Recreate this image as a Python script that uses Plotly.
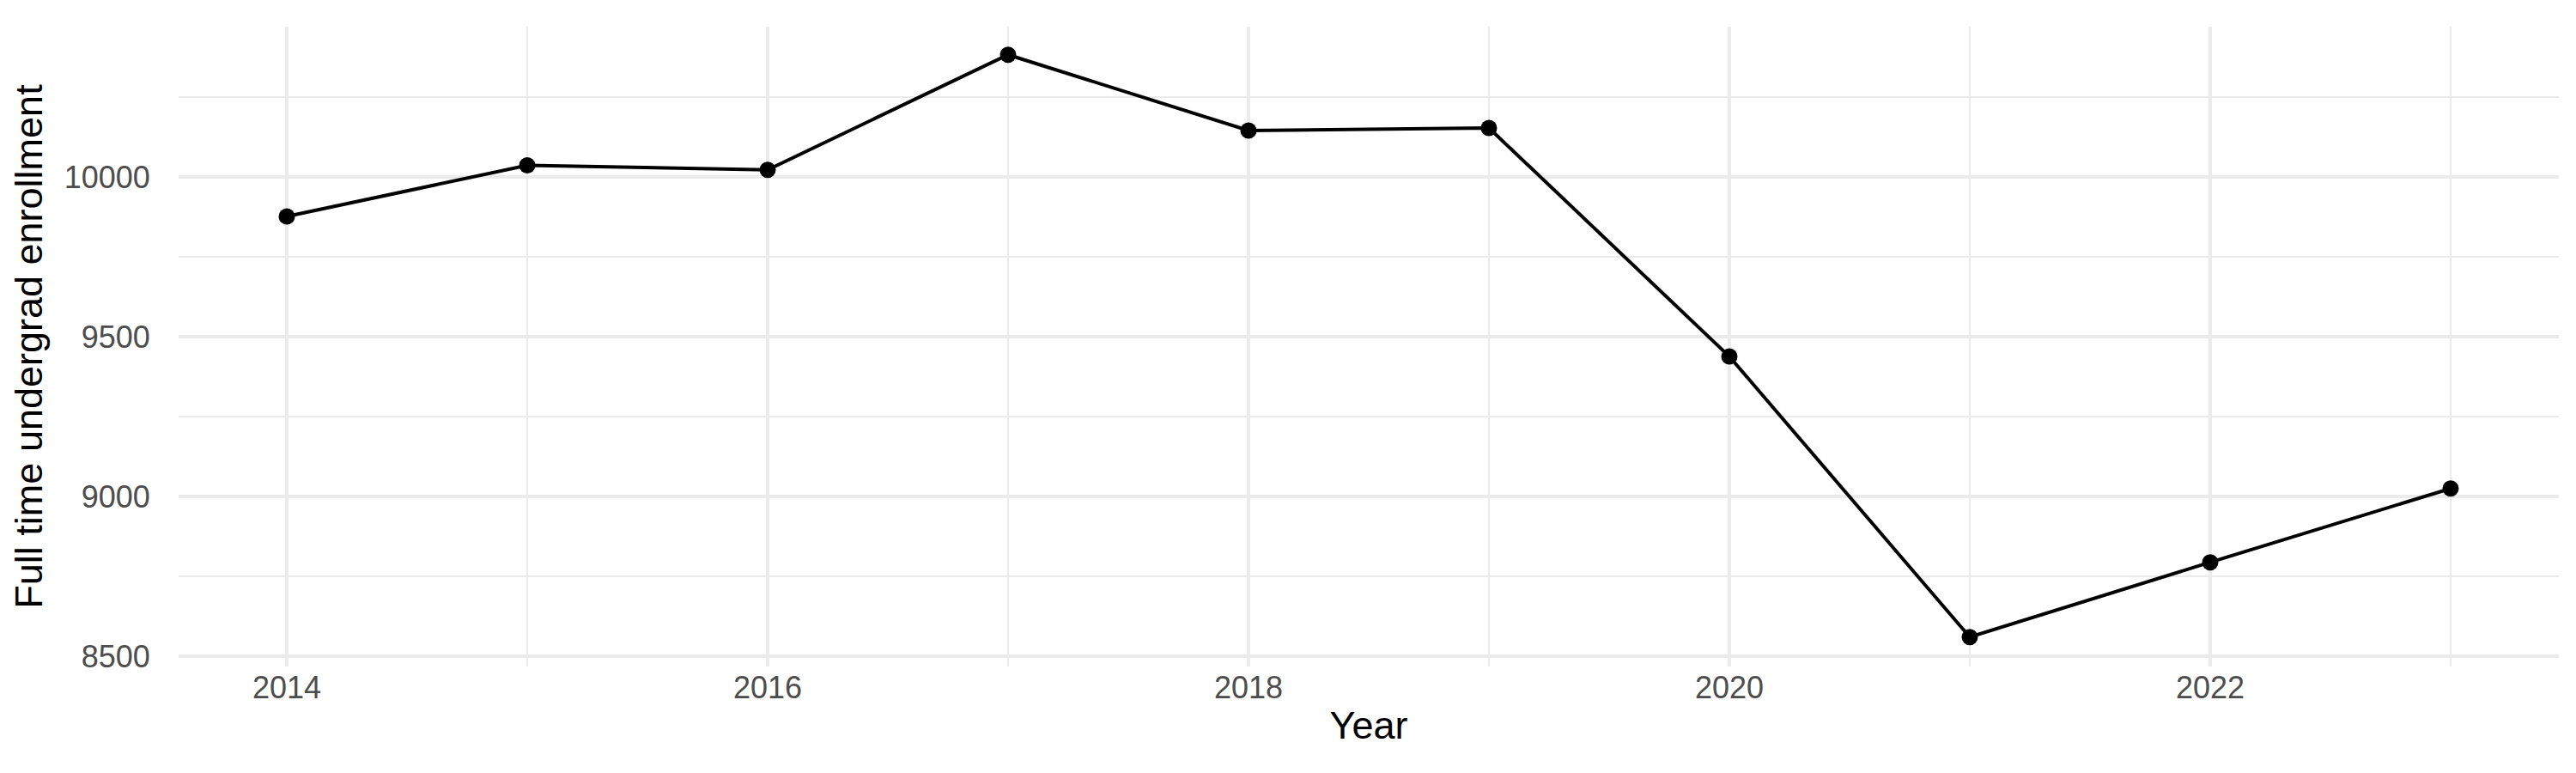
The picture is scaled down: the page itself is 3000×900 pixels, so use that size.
import plotly.graph_objects as go

# enrollment per year
years = [2014, 2015, 2016, 2017, 2018, 2019, 2020, 2021, 2022, 2023]
enrollment = [9876, 10036, 10022, 10382, 10145, 10153, 9438, 8560, 8794, 9025]

x_ticks = [2014, 2016, 2018, 2020, 2022]
y_ticks = [8500, 9000, 9500, 10000]

fig = go.Figure()
fig.add_trace(go.Scatter(
    x=years, y=enrollment, mode='lines+markers',
    line=dict(color='black', width=4),
    marker=dict(color='black', size=19),
    showlegend=False,
))

grid = '#EBEBEB'

fig.update_layout(
    width=3000, height=900,
    margin=dict(l=200, r=28, t=23, b=132),
    paper_bgcolor='white', plot_bgcolor='white',
    font=dict(family='Liberation Sans, Arial, sans-serif', size=36, color='#4D4D4D'),
)
fig.update_xaxes(
    range=[2013.55, 2023.45],
    tickvals=x_ticks, ticktext=[str(v) for v in x_ticks],
    showgrid=True, gridcolor=grid, gridwidth=4,
    minor=dict(dtick=1, tick0=2014, showgrid=True, gridcolor=grid, gridwidth=2),
    zeroline=False, showline=False,
    ticks='', ticklen=0,
    title=dict(text='Year', font=dict(size=45, color='black'), standoff=8),
)
fig.update_yaxes(
    range=[8468, 10470],
    tickvals=y_ticks, ticktext=[str(v) for v in y_ticks],
    showgrid=True, gridcolor=grid, gridwidth=4,
    minor=dict(dtick=250, tick0=8500, showgrid=True, gridcolor=grid, gridwidth=2),
    zeroline=False, showline=False,
    ticks='outside', ticklen=25, tickcolor='rgba(0,0,0,0)',
    title=dict(text='Full time undergrad enrollment', font=dict(size=45, color='black'), standoff=20),
)

fig.write_html("out.html")
